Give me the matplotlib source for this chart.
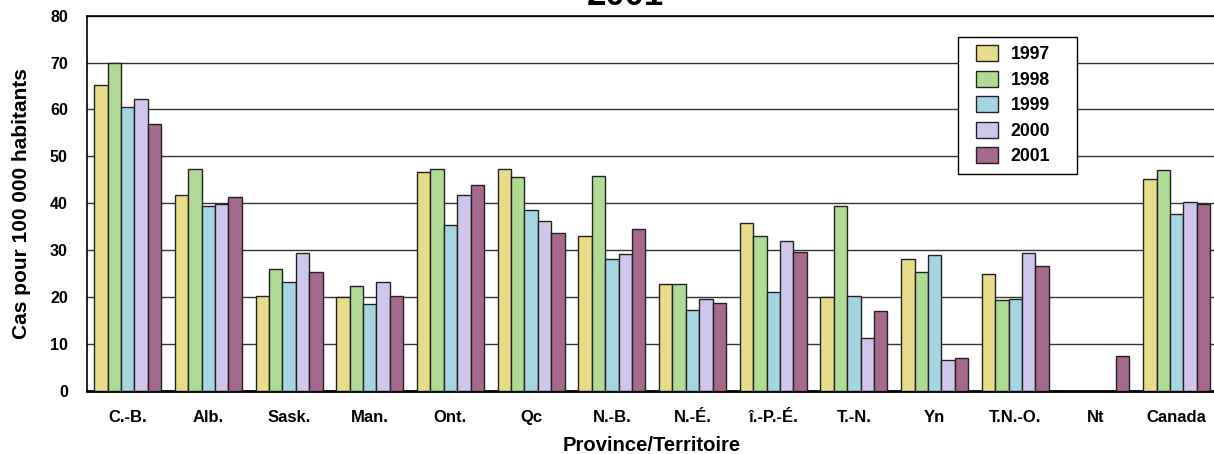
import numpy as np
import matplotlib.pyplot as plt
from matplotlib.patches import Rectangle

plt.rcParams['font.family'] = ['Liberation Sans', 'DejaVu Sans']
plt.rcParams['font.weight'] = 'bold'

regions = ["C.-B.", "Alb.", "Sask.", "Man.", "Ont.", "Qc", "N.-B.", "N.-É.",
           "î.-P.-É.", "T.-N.", "Yn", "T.N.-O.", "Nt", "Canada"]
years = ["1997", "1998", "1999", "2000", "2001"]

rate_1997 = [65.2, 41.7, 20.3, 20.0, 46.7, 47.2, 33.1, 22.8, 35.8, 19.9, 28.0, 25.0, 0.0, 45.2]
rate_1998 = [69.9, 47.2, 26.0, 22.3, 47.2, 45.5, 45.9, 22.8, 32.9, 39.3, 25.4, 19.3, 0.0, 47.0]
rate_1999 = [60.6, 39.5, 23.1, 18.4, 35.3, 38.6, 28.2, 17.3, 21.0, 20.1, 28.9, 19.5, 0.0, 37.6]
rate_2000 = [62.2, 39.8, 29.3, 23.2, 41.7, 36.2, 29.1, 19.5, 31.9, 11.3, 6.5, 29.4, 0.0, 40.2]
rate_2001 = [57.0, 41.4, 25.3, 20.3, 43.9, 33.6, 34.6, 18.8, 29.5, 16.9, 7.0, 26.7, 7.5, 39.8]

series = [rate_1997, rate_1998, rate_1999, rate_2000, rate_2001]
colors = ["#e8dc8a", "#b0db94", "#a5d5e3", "#d0c5ec", "#a6688c"]

fig = plt.figure(figsize=(12.14, 4.54), dpi=100)
ax = fig.add_axes([0.0719, 0.1394, 0.9306, 0.826])

x = np.arange(len(regions))
w = 0.166
for i, (vals, c, yr) in enumerate(zip(series, colors, years)):
    ax.bar(x + (i - 2) * w, vals, width=w, color=c, edgecolor="#222222",
           linewidth=1.0, label=yr, zorder=3)

ax.set_xlim(-0.5, len(regions) - 0.5)
ax.set_ylim(0, 80)
ax.set_yticks(range(0, 81, 10))
ax.set_xticks(x)
ax.set_xticklabels(regions, fontsize=12, fontweight="bold")
ax.tick_params(axis="y", length=0, pad=14, labelsize=11.5)
ax.tick_params(axis="x", length=0, pad=14)
for t in ax.get_yticklabels():
    t.set_fontweight("bold")
ax.yaxis.grid(True, color="#333333", linewidth=1.0, zorder=0)
ax.set_axisbelow(True)

for s in ["top", "left"]:
    ax.spines[s].set_linewidth(1.2)
ax.spines["bottom"].set_linewidth(2.0)
ax.spines["right"].set_visible(False)

ax.set_ylabel("Cas pour 100 000 habitants", fontsize=15, fontweight="bold")
ax.yaxis.set_label_coords(-0.0498, 0.5)
ax.set_xlabel("Province/Territoire", fontsize=14.6, fontweight="bold", labelpad=8)

# legend box drawn separately so the padding can match the original
ax.add_patch(Rectangle((0.7707, 0.5779), 0.1054, 0.3653, transform=ax.transAxes,
                       facecolor="white", edgecolor="black", linewidth=1.0,
                       zorder=4, clip_on=False))
leg = ax.legend(loc="upper left", bbox_to_anchor=(0.7867, 0.921), fontsize=12.7,
                frameon=False, handlelength=1.25, handleheight=1.0,
                handletextpad=0.7, labelspacing=0.43, borderpad=0,
                borderaxespad=0)
leg.set_zorder(5)
for t in leg.get_texts():
    t.set_fontweight("bold")

fig.text(625 / 1214, 1 - 5 / 454, "2001", fontsize=25, fontweight="bold",
         ha="center", va="baseline")

fig.savefig("out.png", dpi=100)
